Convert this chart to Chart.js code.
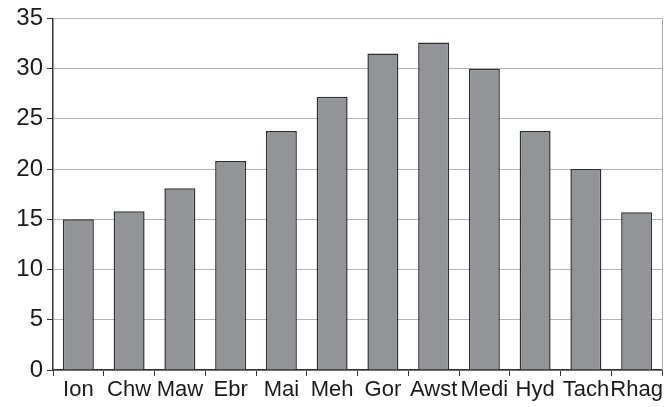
<!DOCTYPE html>
<html>
<head>
<meta charset="utf-8">
<script src="https://cdn.jsdelivr.net/npm/chart.js@4"></script>
<style>
  html, body { margin: 0; padding: 0; background: #fff; }
  #wrap { width: 672px; height: 407px; }
</style>
</head>
<body>
<div id="wrap"><canvas id="myChart" width="672" height="407"></canvas></div>
<script>
const months = ["Ion", "Chw", "Maw", "Ebr", "Mai", "Meh", "Gor", "Awst", "Medi", "Hyd", "Tach", "Rhag"];
const values = [15, 15.8, 18.1, 20.8, 23.8, 27.2, 31.5, 32.6, 30, 23.8, 20, 15.7];
const yTicks = [0, 5, 10, 15, 20, 25, 30, 35];

// right-hand frame line of the plot area
const frameRight = {
  id: "frameRight",
  afterDraw(chart) {
    const { ctx, chartArea } = chart;
    ctx.save();
    ctx.strokeStyle = "#a8a8a8";
    ctx.lineWidth = 1;
    ctx.beginPath();
    ctx.moveTo(chartArea.right + 0.5, chartArea.top);
    ctx.lineTo(chartArea.right + 0.5, chartArea.bottom);
    ctx.stroke();
    ctx.restore();
  }
};

const ctx = document.getElementById("myChart").getContext("2d");
new Chart(ctx, {
  type: "bar",
  data: {
    labels: months,
    datasets: [{
      data: values,
      backgroundColor: "#939498",
      borderColor: "#2e2e2e",
      borderWidth: 1.5,
      barPercentage: 0.61,
      categoryPercentage: 1
    }]
  },
  options: {
    responsive: false,
    animation: false,
    layout: { padding: { left: 0, right: 10, top: 14, bottom: 0 } },
    plugins: { legend: { display: false }, tooltip: { enabled: false } },
    scales: {
      x: {
        afterFit: (s) => { s.height = 37; },
        grid: { display: true, drawOnChartArea: false, offset: true, tickLength: 6, color: "#333" },
        border: { color: "#333", width: 1.5 },
        ticks: {
          color: "#1a1a1a",
          padding: 1,
          maxRotation: 0,
          autoSkip: false,
          font: { family: "'Liberation Sans', Arial, sans-serif", size: 22 }
        }
      },
      y: {
        min: 0,
        max: 35,
        afterFit: (s) => { s.width = 53; },
        afterBuildTicks: (s) => { s.ticks = yTicks.map(v => ({ value: v })); },
        grid: { color: "#b4b4b4", tickColor: "#333", tickLength: 6 },
        border: { color: "#333", width: 1.5 },
        ticks: {
          color: "#1a1a1a",
          padding: 4,
          font: { family: "'Liberation Sans', Arial, sans-serif", size: 24 }
        }
      }
    }
  },
  plugins: [frameRight]
});
</script>
</body>
</html>
